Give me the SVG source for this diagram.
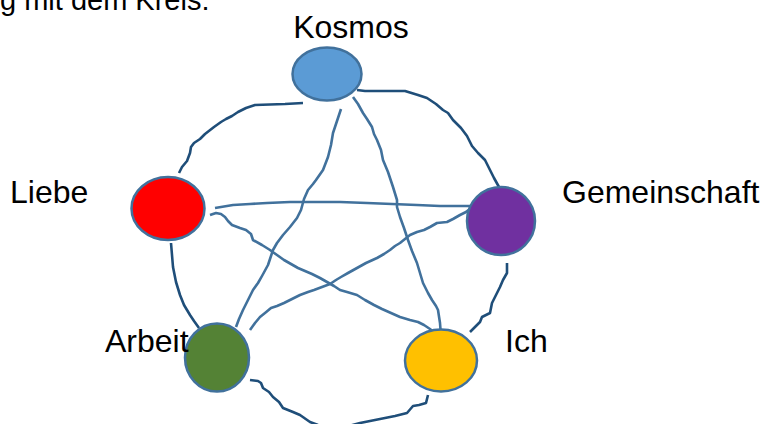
<svg xmlns="http://www.w3.org/2000/svg" width="762" height="424" viewBox="0 0 762 424">
<style>
.lbl{font-family:"Liberation Sans",Arial,sans-serif;font-size:32px;fill:#000}
.node{stroke:#41719C;stroke-width:2.5}
.outer{fill:none;stroke:#1F4E79;stroke-width:2.6;stroke-linejoin:round;stroke-linecap:butt}
.inner{fill:none;stroke:#41719C;stroke-width:2.6;stroke-linejoin:round;stroke-linecap:butt}
</style>
<rect width="762" height="424" fill="#fff"/>
<text class="lbl" x="0" y="9.5" style="font-size:29px">g mit dem Kreis:</text>
<g id="connectors">
<path class="outer" d="M303,103 L285,104 L255,105 L246,108 L238,112 L232,116 L226,119 L221,122 L214,127 L205,134 L200,139 L194,143 L191,147 L190,153 L187,161 L182,167 L179,173"/>
<path class="outer" d="M357,90 L365,91 L385,91 L405,91 L418,95 L427,98 L436,104 L443,110 L448,113 L453,120 L461,128 L467,136 L472,146 L478,153 L485,160 L490,170 L494,178 L499,187"/>
<path class="outer" d="M507,263 L507,273 L503,280 L500,287 L496,295 L492,303 L490,313 L486,315 L482,317 L480,322 L477,325 L473,329 L470,332"/>
<path class="outer" d="M428,395 L426,403 L419,405 L413,406 L407,413 L395,416 L375,420 L360,423 L345,427 L330,428 L318,425 L310,422 L300,415 L293,412 L283,408 L279,402 L273,397 L269,392 L263,388 L261,383 L258,381 L250,380"/>
<path class="outer" d="M171,243 L172,255 L173,267 L176,282 L180,295 L184,305 L190,315 L194,321 L199,328"/>
<path class="inner" d="M341,109 L337,121 L333,133 L331,145 L328,157 L323,170 L316,180 L313,184 L308,190 L304,199 L301,210 L297,218 L290,227 L283,235 L277,243 L273,250 L270,259 L268,265 L262,276 L258,283 L253,290 L248,300 L243,310 L239,319 L236,327"/>
<path class="inner" d="M353,97 L358,104 L363,113 L367,119 L372,127 L374,134 L377,140 L381,150 L383,160 L388,172 L393,187 L397,200 L397,207 L400,217 L404,228 L408,240 L412,251 L417,263 L420,273 L423,283 L428,293 L432,300 L436,306 L438,310 L440,323 L441,336 L433,335"/>
<path class="inner" d="M215,208 L233,205 L250,204 L267,203 L290,202 L317,202 L340,202 L367,203 L392,204 L417,205 L440,206 L460,206 L475,206 L477,203 L476,201"/>
<path class="inner" d="M210,215 L216,213 L221,214 L225,217 L228,221 L232,225 L240,228 L246,230 L251,234 L253,240 L262,245 L270,250 L277,255 L284,260 L291,264 L298,268 L305,271 L312,274 L320,278 L327,282 L334,286 L340,290 L347,292 L357,295 L365,300 L374,305 L382,309 L391,313 L400,317 L410,320 L418,322 L424,325 L430,329 L434,333 L441,336"/>
<path class="inner" d="M250,330 L255,323 L260,317 L265,313 L271,308 L277,306 L284,303 L292,299 L300,295 L308,292 L314,290 L322,287 L330,284 L336,280 L341,277 L348,273 L357,268 L366,263 L377,258 L384,254 L390,250 L395,246 L400,243 L405,239 L410,235 L417,232 L424,230 L430,227 L437,223 L447,222 L453,219 L460,215 L466,212 L471,208 L477,203"/>
</g>
<g id="kosmos"><ellipse class="node" cx="327" cy="74" rx="34.5" ry="26.5" fill="#5B9BD5"/><text class="lbl" x="351" y="38" text-anchor="middle">Kosmos</text></g>
<g id="liebe"><ellipse class="node" cx="168" cy="208.5" rx="36.5" ry="31.5" fill="#FF0000"/><text class="lbl" x="10" y="203">Liebe</text></g>
<g id="gemeinschaft"><ellipse class="node" cx="501" cy="221" rx="34" ry="34" fill="#7030A0"/><text class="lbl" x="562" y="203">Gemeinschaft</text></g>
<g id="arbeit"><ellipse class="node" cx="217" cy="357.5" rx="32" ry="34" fill="#548235"/><text class="lbl" x="105" y="352">Arbeit</text></g>
<g id="ich"><ellipse class="node" cx="441" cy="360.5" rx="36" ry="31" fill="#FFC000"/><text class="lbl" x="505" y="352">Ich</text></g>
</svg>
